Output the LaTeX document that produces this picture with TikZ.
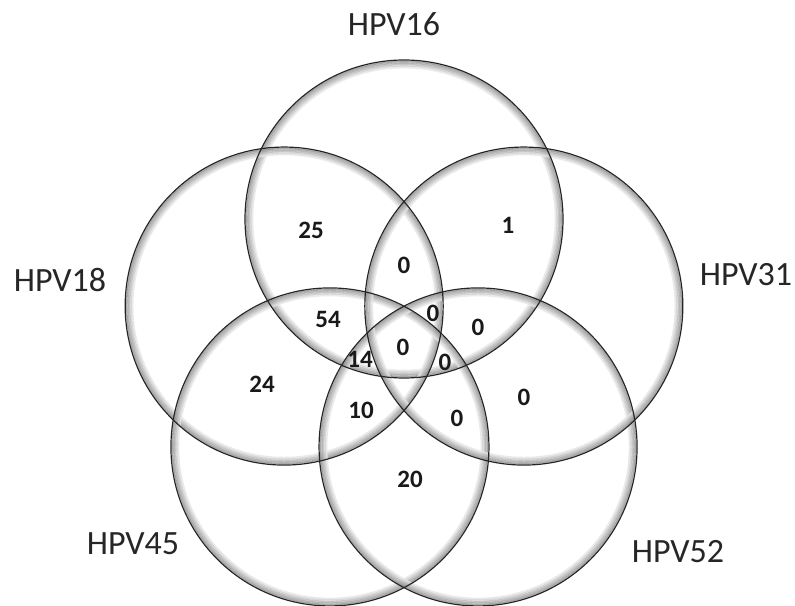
\documentclass[tikz,border=0pt]{standalone}
\usepackage{fontspec}
\setmainfont{Carlito}
\usepackage{tikz}

\begin{document}
\begin{tikzpicture}[
  x=1pt, y=1pt,
  setlabel/.style={font=\fontsize{34}{36}\selectfont, text=black!85, inner sep=0pt},
  count/.style={font=\fontsize{25}{27}\selectfont\bfseries, text=black!90, inner sep=0pt},
  band/.style={line width=1.6pt, opacity=0.8},
  rim/.style={line width=1.2pt, black!85}
]
\useasboundingbox (0,0) rectangle (795,605);
\fill[white] (0,0) rectangle (795,605);

\begin{scope}[shift={(404,260)}]
% shaded inner bands of the five circles
\foreach \a in {90,162,234,306,18}
  \foreach \k/\c in {1/gray!85,2/gray!70,3/gray!55,4/gray!38,5/gray!20}
    \draw[band, \c] (\a:126) circle[radius=159-\k*1.5];
% dark outer rims
\foreach \a in {90,162,234,306,18}
  \draw[rim] (\a:126) circle[radius=159];
\end{scope}

% set names
\node[setlabel] (l16) at (394,581) {HPV16};
\node[setlabel] (l18) at (60,325) {HPV18};
\node[setlabel] (l31) at (746,330) {HPV31};
\node[setlabel] (l45) at (133,61) {HPV45};
\node[setlabel] (l52) at (678,53) {HPV52};

% region counts
\node[count] (n25) at (311,375) {25};
\node[count] (n1) at (508,380) {1};
\node[count] (nA) at (404,340) {0};
\node[count] (n54) at (328,286) {54};
\node[count] (nB) at (433,292) {0};
\node[count] (nC) at (478,278) {0};
\node[count] (nD) at (403,258) {0};
\node[count] (n14) at (360,246) {14};
\node[count] (nE) at (445,243) {0};
\node[count] (n24) at (262,221) {24};
\node[count] (n10) at (361,195) {10};
\node[count] (nF) at (457,187) {0};
\node[count] (nG) at (524,208) {0};
\node[count] (n20) at (410,126) {20};
\end{tikzpicture}
\end{document}
